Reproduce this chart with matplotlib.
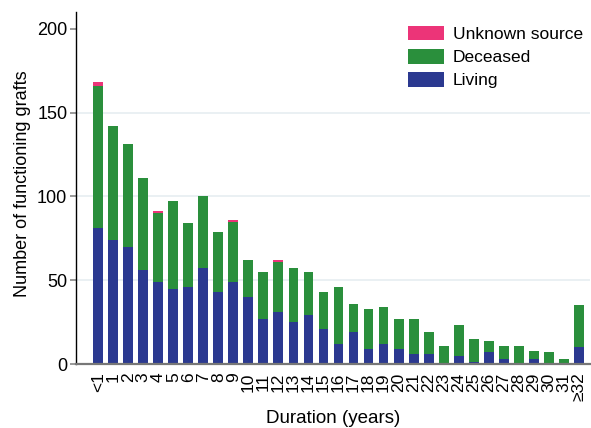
import numpy as np
import matplotlib.pyplot as plt

plt.rcParams["font.family"] = "Liberation Sans"

# years since transplant, grouped
durations = ["<1"] + [str(i) for i in range(1, 32)] + ["\u226532"]
living = [81, 74, 70, 56, 49, 45, 46, 57, 43, 49, 40, 27, 31, 25, 29, 21, 12,
          19, 9, 12, 9, 6, 6, 0, 5, 1, 7, 3, 0, 3, 0, 0, 10]
deceased = [85, 68, 61, 55, 41, 52, 38, 43, 36, 36, 22, 28, 30, 32, 26, 22, 34,
            17, 24, 22, 18, 21, 13, 11, 18, 14, 7, 8, 11, 5, 7, 3, 25]
unknown = [2, 0, 0, 0, 1, 0, 0, 0, 0, 1, 0, 0, 1, 0, 0, 0, 0,
           0, 0, 0, 0, 0, 0, 0, 0, 0, 0, 0, 0, 0, 0, 0, 0]

c_living = "#2b3990"
c_deceased = "#2a8f3c"
c_unknown = "#ec3478"

fig = plt.figure(figsize=(5.91, 4.28), dpi=100)
ax = fig.add_axes([0.1286, 0.1495, 0.8694, 0.8225])

x = np.arange(len(durations))
liv = np.array(living)
dec = np.array(deceased)
unk = np.array(unknown)
w = 0.66

ax.bar(x, liv, w, color=c_living, label="Living", zorder=2)
ax.bar(x, dec, w, bottom=liv, color=c_deceased, label="Deceased", zorder=2)
ax.bar(x, unk, w, bottom=liv + dec, color=c_unknown, label="Unknown source", zorder=2)

for yv in (50, 100, 150):
    ax.axhline(yv, color="#eaf0f3", lw=1.4, zorder=0)

ax.set_xlim(-1.485, 32.74)
ax.set_ylim(0, 210)
ax.set_yticks([0, 50, 100, 150, 200])
ax.set_xticks(x)
ax.set_xticklabels(durations, rotation=90, va="top", ha="center", fontsize=12.5)

ax.spines["top"].set_visible(False)
ax.spines["right"].set_visible(False)
ax.spines["left"].set_color("black")
ax.spines["left"].set_linewidth(1.0)
ax.spines["bottom"].set_color("#777777")
ax.spines["bottom"].set_linewidth(1.6)
ax.spines["bottom"].set_zorder(3)

ax.tick_params(axis="x", length=0, pad=6)
ax.tick_params(axis="y", length=4.3, width=1.2, color="#888888", pad=2, labelsize=13)

ax.set_xlabel("Duration (years)", fontsize=13.5, labelpad=6.5)
ax.set_ylabel("Number of functioning grafts", fontsize=13, labelpad=4)
ax.yaxis.label.set_y(0.5 + 4 / 352)

handles, labels = ax.get_legend_handles_labels()
ax.legend(handles[::-1], labels[::-1], loc="upper left",
          bbox_to_anchor=((408 - 76) / 514, (364 - 26) / 352),
          frameon=False, fontsize=12.5, borderaxespad=0, borderpad=0,
          handlelength=2.1, handleheight=0.9, handletextpad=0.5,
          labelspacing=0.4)

fig.savefig("out.png", dpi=100)
